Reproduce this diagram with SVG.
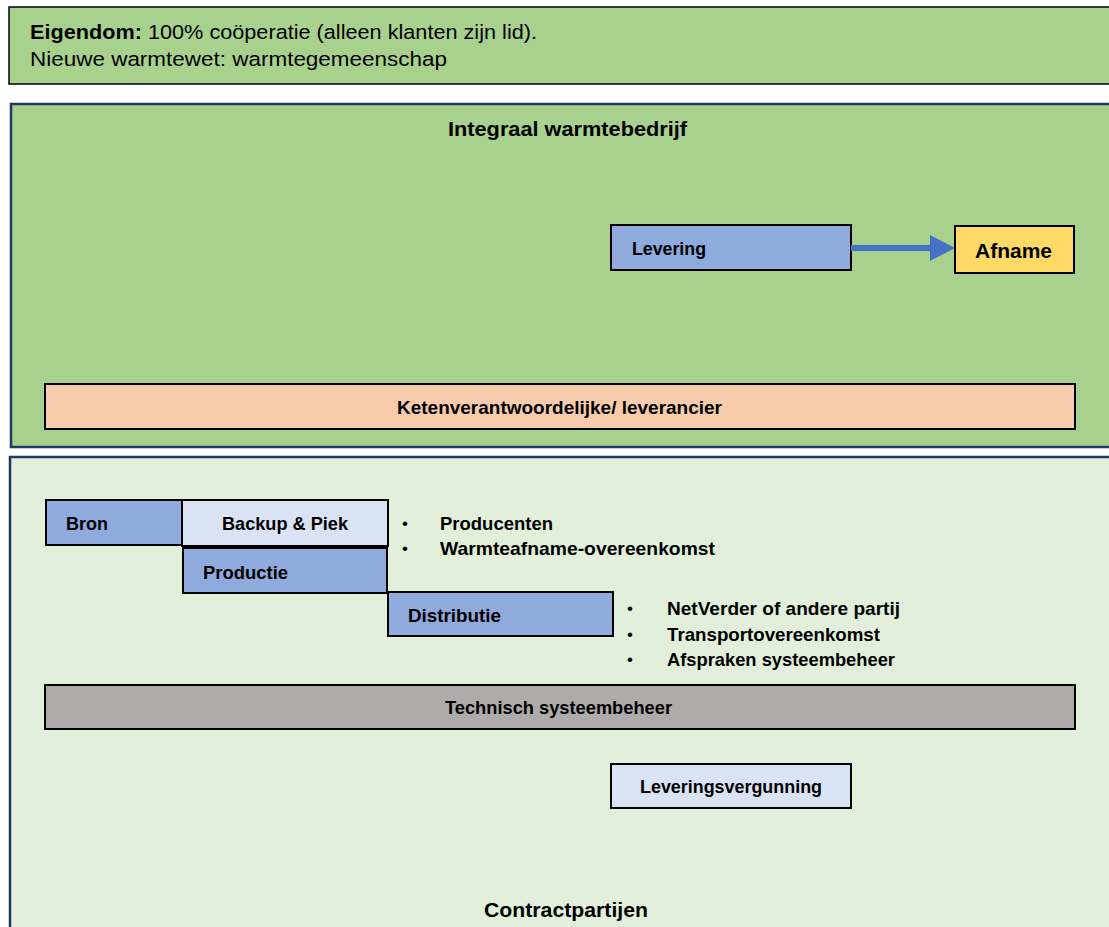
<svg xmlns="http://www.w3.org/2000/svg" width="1109" height="927" viewBox="0 0 1109 927">
<style>
text{font-family:"Liberation Sans",Arial,sans-serif;fill:#000}
.b{font-weight:bold}
.l{font-size:19px;font-weight:bold}
.t{font-size:21px;font-weight:bold}
.box{stroke:#000;stroke-width:2}
.big{stroke:#1f3864;stroke-width:2.5}
</style>
<rect width="1109" height="927" fill="#fff"/>
<g id="eigendom">
<rect x="9" y="7" width="1110" height="77" fill="#a9d18e" stroke="#000" stroke-width="1.5"/>
<text x="30" y="39" font-size="20.5" textLength="507" lengthAdjust="spacingAndGlyphs"><tspan class="b">Eigendom:</tspan> 100% coöperatie (alleen klanten zijn lid).</text>
<text x="30" y="66" font-size="20.5" textLength="417" lengthAdjust="spacingAndGlyphs">Nieuwe warmtewet: warmtegemeenschap</text>
</g>
<g id="integraal">
<rect x="11" y="104" width="1110" height="343" fill="#a9d18e" class="big"/>
<text x="448" y="136" class="t" textLength="239" lengthAdjust="spacingAndGlyphs">Integraal warmtebedrijf</text>
</g>
<g id="levering">
<rect x="611" y="225" width="240" height="45" fill="#8faadc" class="box"/>
<text x="632" y="255" class="l" textLength="74" lengthAdjust="spacingAndGlyphs">Levering</text>
</g>
<g id="afname">
<rect x="955" y="226" width="119" height="47" fill="#ffd966" class="box"/>
<text x="975" y="258" class="t" textLength="77" lengthAdjust="spacingAndGlyphs">Afname</text>
</g>
<g id="keten">
<rect x="45" y="384" width="1030" height="45" fill="#f8cbad" class="box"/>
<text x="397" y="414" class="l" textLength="325" lengthAdjust="spacingAndGlyphs">Ketenverantwoordelijke/ leverancier</text>
</g>
<g id="contract">
<rect x="10" y="457" width="1110" height="480" fill="#e2efda" class="big"/>
<text x="484" y="917" class="t" textLength="164" lengthAdjust="spacingAndGlyphs">Contractpartijen</text>
</g>
<g id="bron">
<rect x="46" y="500" width="136" height="45" fill="#8faadc" class="box"/>
<text x="66" y="530" class="l" textLength="42" lengthAdjust="spacingAndGlyphs">Bron</text>
</g>
<g id="backup">
<rect x="182" y="500" width="206" height="46" fill="#dae3f3" class="box"/>
<text x="222" y="530" class="l" textLength="126" lengthAdjust="spacingAndGlyphs">Backup &amp; Piek</text>
</g>
<g id="productie">
<rect x="183" y="548" width="204" height="45" fill="#8faadc" class="box"/>
<text x="203" y="579" class="l" textLength="85" lengthAdjust="spacingAndGlyphs">Productie</text>
</g>
<g id="distributie">
<rect x="388" y="592" width="225" height="44" fill="#8faadc" class="box"/>
<text x="408" y="622" class="l" textLength="93" lengthAdjust="spacingAndGlyphs">Distributie</text>
</g>
<g id="bullets1">
<text x="402" y="529" font-size="17">•</text><text x="440" y="530" class="l" textLength="113" lengthAdjust="spacingAndGlyphs">Producenten</text>
<text x="402" y="554" font-size="17">•</text><text x="440" y="555" class="l" textLength="275" lengthAdjust="spacingAndGlyphs">Warmteafname-overeenkomst</text>
</g>
<g id="bullets2">
<text x="627" y="614" font-size="17">•</text><text x="667" y="615" class="l" textLength="233" lengthAdjust="spacingAndGlyphs">NetVerder of andere partij</text>
<text x="627" y="640" font-size="17">•</text><text x="667" y="641" class="l" textLength="213" lengthAdjust="spacingAndGlyphs">Transportovereenkomst</text>
<text x="627" y="665" font-size="17">•</text><text x="667" y="666" class="l" textLength="228" lengthAdjust="spacingAndGlyphs">Afspraken systeembeheer</text>
</g>
<g id="technisch">
<rect x="45" y="685" width="1030" height="44" fill="#afabab" class="box"/>
<text x="445" y="714" class="l" textLength="227" lengthAdjust="spacingAndGlyphs">Technisch systeembeheer</text>
</g>
<g id="vergunning">
<rect x="611" y="764" width="240" height="44" fill="#dae3f3" class="box"/>
<text x="640" y="793" class="l" textLength="182" lengthAdjust="spacingAndGlyphs">Leveringsvergunning</text>
</g>
<g id="connectors">
<line x1="851" y1="248" x2="932" y2="248" stroke="#4472c4" stroke-width="6"/>
<polygon points="930,235 955,248 930,261" fill="#4472c4"/>
</g>
</svg>
